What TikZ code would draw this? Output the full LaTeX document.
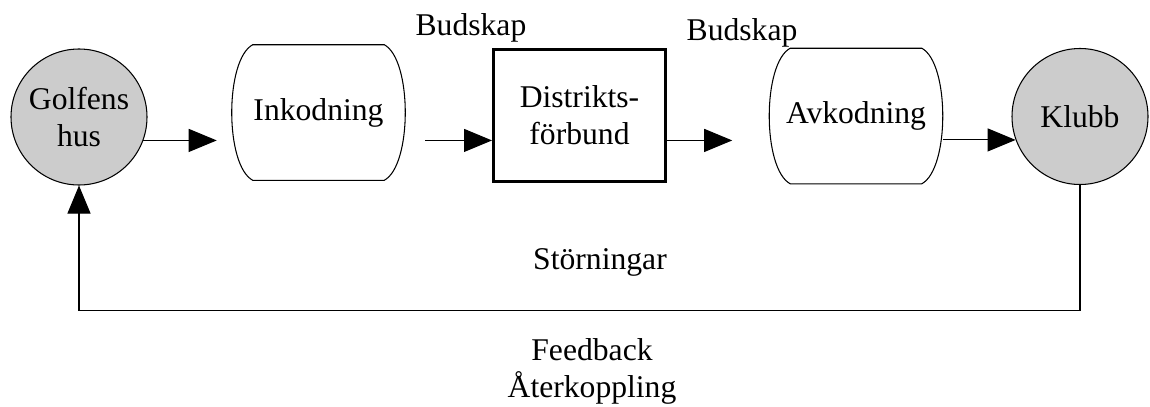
\documentclass[tikz,border=0pt]{standalone}
\usepackage{fontspec}
\setmainfont{Liberation Serif}
\usetikzlibrary{arrows.meta}
\definecolor{hubgray}{RGB}{204,204,204}
\newcommand{\barrel}[1]{\draw ([xshift=0.42cm]#1.north west) -- ([xshift=-0.42cm]#1.north east)
  .. controls ([xshift=0.14cm,yshift=-0.3cm]#1.north east) and ([xshift=0.14cm,yshift=0.3cm]#1.south east) .. ([xshift=-0.42cm]#1.south east)
  -- ([xshift=0.42cm]#1.south west)
  .. controls ([xshift=-0.14cm,yshift=0.3cm]#1.south west) and ([xshift=-0.14cm,yshift=-0.3cm]#1.north west) .. cycle;}
\begin{document}
\begin{tikzpicture}[line width=0.6pt, font=\fontsize{18}{21}\selectfont,
  flow/.style={-{Triangle[length=0.56cm, width=0.46cm]}},
  hub/.style={circle, draw, fill=hubgray, minimum size=2.72cm, inner sep=0pt, align=center},
  coder/.style={rectangle, minimum width=3.45cm, minimum height=2.69cm, inner sep=0pt},
  relay/.style={rectangle, draw, line width=1.7pt, minimum width=3.44cm, minimum height=2.64cm, align=center}]
\useasboundingbox (0,0) rectangle (23,-8.14);
\node [hub] (golf) at (1.58,-2.34) {Golfens\\hus};
\node [coder] (ink) at (6.37,-2.25) {Inkodning};
\node [relay] (dist) at (11.59,-2.31) {Distrikts-\\förbund};
\node [coder] (avk) at (17.12,-2.32) {Avkodning};
\node [hub] (klubb) at (21.6,-2.33) {Klubb};
\barrel{ink}
\barrel{avk}
\node (bud1) at (9.42,-0.56) {Budskap};
\node (bud2) at (14.84,-0.66) {Budskap};
\node (storn) at (12,-5.24) {Störningar};
\node [align=center] (feed) at (11.84,-7.43) {Feedback\\Återkoppling};
\draw [flow, shorten >=0.3cm] (golf.-20) -- (golf.-20 -| ink.west);
\draw [flow, shorten <=0.4cm] (ink.east |- golf.-20) -- (dist.west |- golf.-20);
\draw [flow, shorten >=0.74cm] (dist.east |- golf.-20) -- (avk.west |- golf.-20);
\draw [flow] (avk.east |- klubb.200) -- (klubb.200);
\draw [flow] (klubb.south) -- ++(0,-2.51) -| (golf.south);
\end{tikzpicture}
\end{document}
